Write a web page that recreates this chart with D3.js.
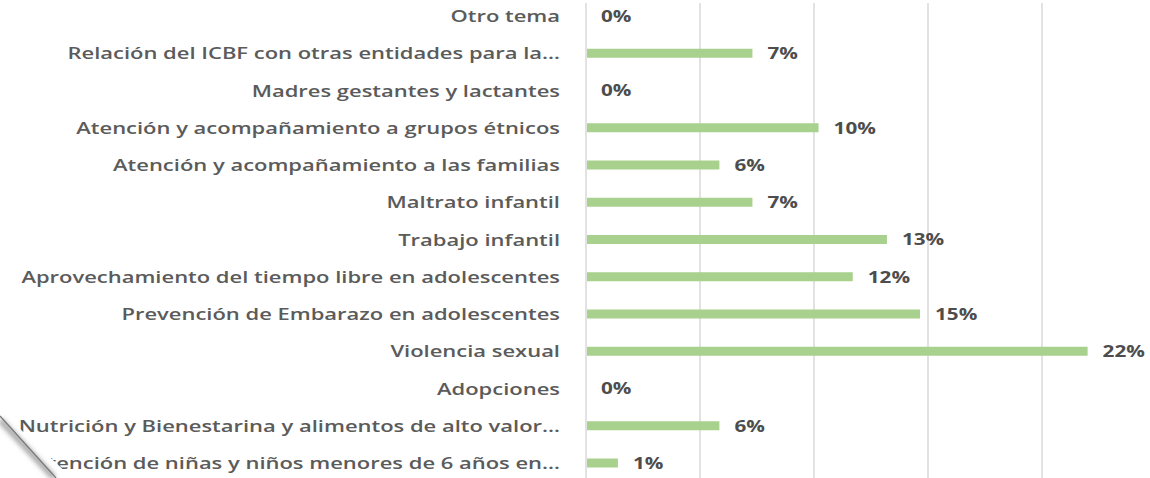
<!DOCTYPE html>
<html>
<head>
<meta charset="utf-8">
<script src="https://d3js.org/d3.v7.min.js"></script>
<style>
  body { margin: 0; background: #fff; }
  .cat { font-family: "Open Sans", sans-serif; font-weight: 600; font-size: 17px; fill: #5b5b5b; }
  .val { font-family: "Open Sans", sans-serif; font-weight: 700; font-size: 16px; fill: #4d4d4d; }
  .grid line { stroke: #d9d9d9; stroke-width: 1.5px; }
  .bar { fill: #a9d18e; }
</style>
</head>
<body>
<svg width="1150" height="478"></svg>
<script>
// categories top to bottom, shares of answers
var categories = [
  "Otro tema",
  "Relación del ICBF con otras entidades para la…",
  "Madres gestantes y lactantes",
  "Atención y acompañamiento a grupos étnicos",
  "Atención y acompañamiento a las familias",
  "Maltrato infantil",
  "Trabajo infantil",
  "Aprovechamiento del tiempo libre en adolescentes",
  "Prevención de Embarazo en adolescentes",
  "Violencia sexual",
  "Adopciones",
  "Nutrición y Bienestarina y alimentos de alto valor…",
  "Atención de niñas y niños menores de 6 años en…"
];
var values = [0, 0.073, 0, 0.102, 0.0585, 0.073, 0.132, 0.117, 0.1465, 0.22, 0, 0.0585, 0.014];
var gridTicks = [0, 0.05, 0.10, 0.15, 0.20, 0.25];

var data = categories.map(function(c, i) { return {name: c, value: values[i]}; });

var svg = d3.select("svg"),
    axisX = 586,
    width = +svg.attr("width"),
    height = +svg.attr("height");

var x = d3.scaleLinear()
    .domain([0, 0.25])
    .range([axisX, axisX + 570]);

var y = d3.scalePoint()
    .domain(categories)
    .range([16, 463]);

var barH = 9;
var fmt = d3.format(".0%");

// vertical gridlines
svg.append("g").attr("class", "grid")
  .selectAll("line")
  .data(gridTicks)
  .enter().append("line")
    .attr("x1", function(d) { return x(d); })
    .attr("x2", function(d) { return x(d); })
    .attr("y1", 3)
    .attr("y2", height);

svg.append("g")
  .selectAll("rect")
  .data(data)
  .enter().append("rect")
    .attr("class", "bar")
    .attr("x", x(0) + 1)
    .attr("y", function(d) { return y(d.name) - barH / 2; })
    .attr("width", function(d) { return Math.max(0, x(d.value) - x(0) - 1); })
    .attr("height", barH);

var cats = svg.append("g")
  .selectAll("text")
  .data(data)
  .enter().append("text")
    .attr("class", "cat")
    .attr("text-anchor", "end")
    .attr("dy", "0.36em")
    .text(function(d) { return d.name; });

// the picture is stretched horizontally; match the longest label's span
var longest = d3.max(cats.nodes(), function(n) { return n.getComputedTextLength(); });
var sx = (560 - 18) / longest;

cats.attr("transform", function(d) {
  return "translate(560," + y(d.name) + ") scale(" + sx + ",1)";
});

svg.append("g")
  .selectAll("text")
  .data(data)
  .enter().append("text")
    .attr("class", "val")
    .attr("dy", "0.36em")
    .attr("transform", function(d) {
      return "translate(" + (x(d.value) + 15) + "," + y(d.name) + ") scale(" + sx + ",1)";
    })
    .text(function(d) { return fmt(d.value); });

// page-curl corner at the bottom left
var defs = svg.append("defs");
defs.append("filter").attr("id", "soft")
  .append("feGaussianBlur").attr("stdDeviation", 2.5);

svg.append("path")
    .attr("d", "M0,410 L72,478 L0,478 Z")
    .attr("fill", "#fff");
svg.append("path")
    .attr("d", "M0,420 L54,478")
    .attr("stroke", "#9a9a9a")
    .attr("stroke-width", 5)
    .attr("filter", "url(#soft)");
svg.append("path")
    .attr("d", "M0,416 L56,478")
    .attr("stroke", "#777")
    .attr("stroke-width", 1.2);
</script>
</body>
</html>
